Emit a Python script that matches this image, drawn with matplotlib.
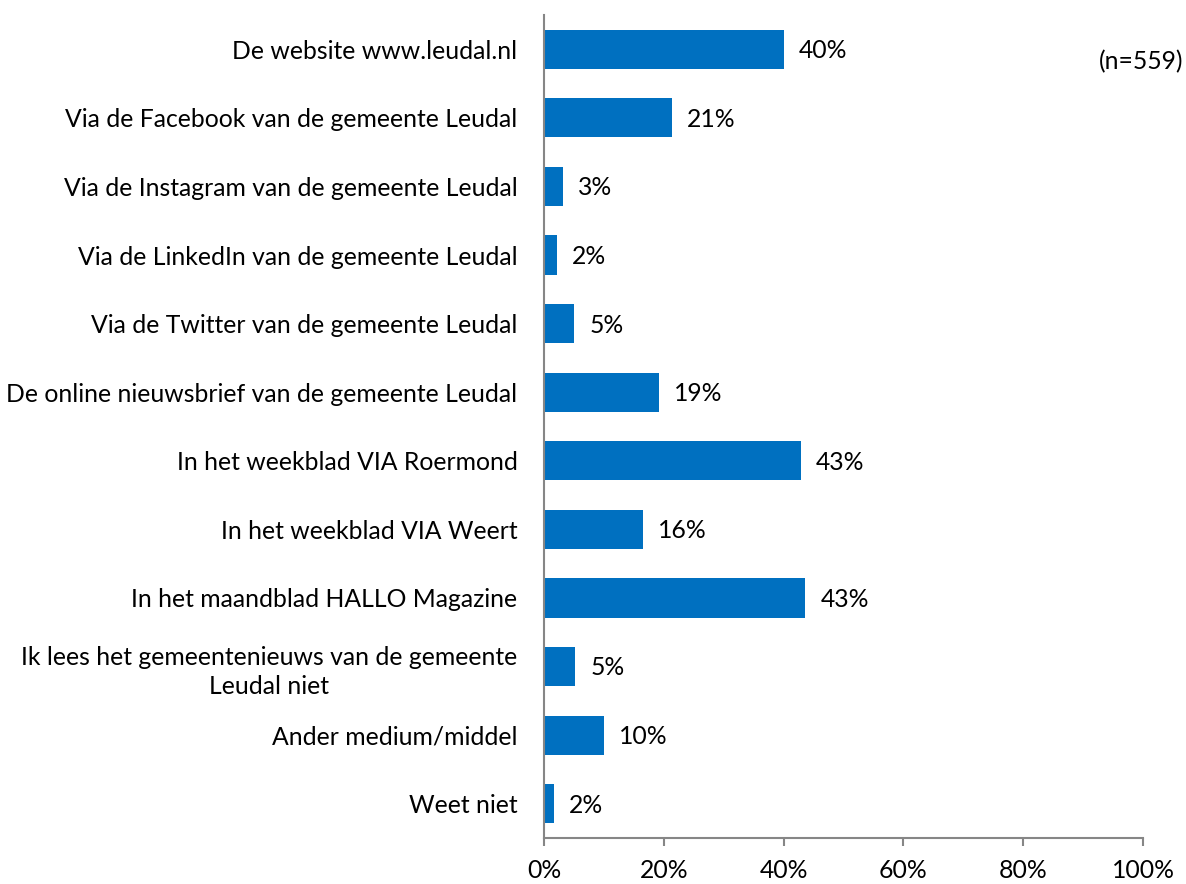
import matplotlib.pyplot as plt
from matplotlib.ticker import FuncFormatter

# categories and percentages, top to bottom as in the chart
categories = [
    'De website www.leudal.nl',
    'Via de Facebook van de gemeente Leudal',
    'Via de Instagram van de gemeente Leudal',
    'Via de LinkedIn van de gemeente Leudal',
    'Via de Twitter van de gemeente Leudal',
    'De online nieuwsbrief van de gemeente Leudal',
    'In het weekblad VIA Roermond',
    'In het weekblad VIA Weert',
    'In het maandblad HALLO Magazine',
    'Ik lees het gemeentenieuws van de gemeente\nLeudal niet',
    'Ander medium/middel',
    'Weet niet',
]
values = [40.0, 21.3, 3.2, 2.1, 5.0, 19.2, 42.9, 16.5, 43.6, 5.2, 10.0, 1.6]
value_labels = ['40%', '21%', '3%', '2%', '5%', '19%', '43%', '16%', '43%', '5%', '10%', '2%']
n_text = '(n=559)'

plt.rcParams['font.family'] = ['Lato', 'DejaVu Sans']
fs = 17.8

fig = plt.figure(figsize=(11.86, 8.84), dpi=100)
ax = fig.add_axes([544 / 1186, 1 - 838 / 884, (1143 - 544) / 1186, (838 - 15) / 884])

pos = list(range(len(categories)))
ax.barh(pos, values, height=0.57, color='#0070C0')
ax.set_ylim(len(categories) - 0.5, -0.5)
ax.set_xlim(0, 100)

for y, v, lab in zip(pos, values, value_labels):
    ax.annotate(lab, (v, y), xytext=(11, -1), textcoords='offset points',
                ha='left', va='center', fontsize=fs, color='black')

ax.set_yticks(pos)
ax.set_yticklabels(categories, fontsize=fs, multialignment='center', linespacing=1.35)
ax.tick_params(axis='y', length=0, pad=19)

ax.set_xticks([0, 20, 40, 60, 80, 100])
ax.xaxis.set_major_formatter(FuncFormatter(lambda x, p: f'{int(x)}%'))
ax.tick_params(axis='x', direction='out', length=6, width=1.5, color='#868686',
               labelsize=fs, pad=9)

for s in ['top', 'right']:
    ax.spines[s].set_visible(False)
for s in ['left', 'bottom']:
    ax.spines[s].set_color('#868686')
    ax.spines[s].set_linewidth(1.5)

fig.text(1183 / 1186, 1 - 62 / 884, n_text, ha='right', va='center', fontsize=fs)

plt.savefig('out.png', dpi=100)
